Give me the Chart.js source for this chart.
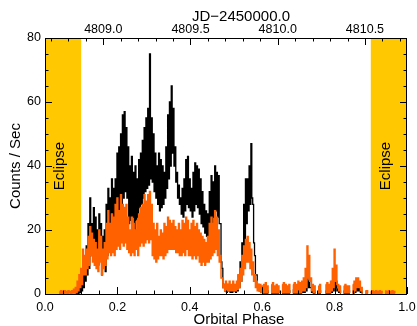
<!DOCTYPE html>
<html>
<head>
<meta charset="utf-8">
<script src="https://cdn.jsdelivr.net/npm/chart.js@4/dist/chart.umd.min.js"></script>
<style>
  html, body { margin: 0; padding: 0; background: #fff; }
  #wrap { width: 417px; height: 326px; }
</style>
</head>
<body>
<div id="wrap"><canvas id="chart" width="417" height="326"></canvas></div>
<script>
// Light curve binned every 0.005 in orbital phase, first bin at phase 0.040.
// Each bin keeps the high and low count rate seen inside it.
const phaseStart = 0.040;
const phaseStep = 0.005;

// total band (black)
const blackHi = [
  null, null, null, null, null, null, null, null, null, 1,
  1, 2, 4, 8, 12, 15, 22, 30, 22, 27,
  24, 20, 25, 22, 18, 20, 28, 33, 30, 36,
  33, 36, 44, 46, 50, 56, 57, 52, 46, 40,
  43, 38, 40, 36, 42, 44, 48, 52, 55, 58,
  75, 55, 50, 44, 40, 44, 42, 40, 38, 46,
  56, 60, 65, 58, 46, 38, 34, 30, 33, 36,
  42, 43, 36, 33, 38, 41, 40, 39, 36, 32,
  28, 26, 25, 32, 37, 35, 40, 38, 37, 22,
  8, 3, 2, 3, 2, 2, 3, 2, 3, 6,
  10, 16, 28, 36, 36, 40, 47, 28, 12, 6,
  3, 2, 1.5, 1, 1.5, 1, null, 1.5, 1, 1.5,
  1, 1, null, 1, 1.5, 1, 1.5, 1, null, 1.5,
  1, 1.5, 1.5, 1, 2, 2, 3, 5, 4, 2,
  1, 1, null, 1, 1, null, null, 1, 1.5, 1,
  2, 4, 6, 4, 1.5, 1, null, 1, 1, 1.5,
  1, null, 1, 2, 3, 3, 2, 1, null, null,
  null, null, null, null, null, null, null, null, null, null,
  null, null, null, null, null, null, null
];
const blackLo = [
  null, null, null, null, null, null, null, null, null, 0,
  0, 0.5, 1, 2, 4, 6, 8, 12, 14, 12,
  10, 9, 12, 6, 8, 7, 12, 16, 14, 18,
  15, 17, 20, 22, 25, 30, 32, 30, 22, 23,
  24, 20, 23, 24, 27, 28, 30, 32, 33, 34,
  36, 35, 32, 30, 28, 26, 27, 28, 30, 33,
  36, 40, 44, 40, 35, 30, 28, 25, 24, 26,
  28, 27, 26, 24, 26, 28, 27, 25, 22, 21,
  19, 18, 18, 20, 22, 24, 26, 24, 22, 10,
  2, 1, 0.5, 1, 0.5, 0.5, 1, 0.5, 1, 2,
  4, 8, 14, 22, 26, 28, 30, 16, 6, 3,
  1, 0.5, 0.3, 0.3, 0.3, 0.3, null, 0.3, 0.3, 0.3,
  0.3, 0.3, null, 0.3, 0.3, 0.3, 0.3, 0.3, null, 0.3,
  0.3, 0.3, 0.3, 0.3, 0.5, 0.5, 1, 2, 2, 0.5,
  0.3, 0.3, null, 0.3, 0.3, null, null, 0.3, 0.3, 0.3,
  0.5, 1, 2, 1, 0.5, 0.3, null, 0.3, 0.3, 0.3,
  0.3, null, 0.3, 0.5, 1, 1, 0.5, 0.3, null, null,
  null, null, null, null, null, null, null, null, null, null,
  null, null, null, null, null, null, null
];

// soft band (orange)
const orangeHi = [
  0.8, 1, 0.8, 1, 0.8, 1, 0.8, 1, 1.5, 2,
  4, 6, 8, 14, 12, 14, 18, 21, 19, 17,
  16, 14, 20, 18, 14, 16, 22, 26, 22, 25,
  24, 28, 30, 26, 31, 28, 27, 28, 24, 20,
  24, 22, 20, 23, 25, 27, 28, 31, 29, 31,
  32, 28, 22, 20, 22, 18, 20, 19, 22, 21,
  24, 23, 22, 23, 21, 20, 22, 20, 23, 22,
  24, 23, 20, 22, 23, 21, 22, 20, 19, 18,
  17, 16, 18, 22, 24, 22, 26, 24, 20, 12,
  5, 3, 4, 3, 4, 3, 4, 3, 4, 6,
  8, 12, 15, 17, 18, 16, 14, 10, 6, 4,
  3, 3, 2.5, 3, 3.5, 2.5, null, 3, 3.5, 2.5,
  3, 2.5, null, 3, 3.5, 3, 2.5, 3, null, 3,
  3.5, 3, 4, 3.5, 4, 5, 8, 15, 12, 5,
  3, 2.5, null, 2.5, 3, null, null, 3, 3.5, 3,
  4, 8, 14, 9, 3, 2.5, null, 2.5, 3, 2.5,
  2.5, null, 3, 4, 5, 5, 4, 2, null, 1,
  1, null, 0.8, 1, 0.8, 1, 0.8, 1, 0.8, null,
  1, 0.8, 1, 0.8, 1, 0.8, null
];
const orangeLo = [
  0.2, 0.2, 0.2, 0.3, 0.2, 0.3, 0.2, 0.3, 0.3, 0.5,
  1, 2, 3, 6, 6, 8, 9, 12, 10, 9,
  8, 7, 10, 6, 8, 9, 11, 13, 12, 13,
  12, 14, 15, 14, 16, 15, 16, 14, 13, 12,
  13, 12, 14, 12, 15, 16, 15, 16, 17, 16,
  17, 12, 11, 10, 11, 12, 12, 11, 12, 13,
  14, 14, 14, 14, 13, 13, 12, 12, 13, 12,
  14, 12, 12, 11, 12, 11, 12, 10, 9, 10,
  9, 10, 10, 11, 12, 13, 14, 12, 10, 5,
  2, 1, 1, 1, 1, 1, 1, 1, 1.5, 2,
  4, 6, 8, 10, 10, 8, 6, 4, 2, 1,
  1, 0.5, 0.5, 0.5, 0.5, 0.5, null, 0.5, 0.5, 0.5,
  0.5, 0.5, null, 0.5, 0.5, 0.5, 0.5, 0.5, null, 0.5,
  0.5, 0.5, 0.5, 0.5, 1, 1, 2, 5, 4, 1,
  0.5, 0.5, null, 0.5, 0.5, null, null, 0.5, 0.5, 0.5,
  1, 2, 4, 3, 1, 0.5, null, 0.5, 0.5, 0.5,
  0.5, null, 0.5, 1, 2, 2, 1, 0.5, null, 0.2,
  0.2, null, 0.2, 0.2, 0.2, 0.2, 0.2, 0.2, 0.2, null,
  0.2, 0.2, 0.2, 0.2, 0.2, 0.2, null
];

const phaseTicks = [0.0, 0.2, 0.4, 0.6, 0.8, 1.0];
const countTicks = [0, 20, 40, 60, 80];
const jdTicks = [4809.0, 4809.5, 4810.0, 4810.5];
const jdRange = [4808.666, 4810.741];   // JD-2450000 at phase 0 and phase 1
const eclipses = [[0.0, 0.1], [0.9, 1.0]];

const FONT = '"Liberation Sans", Arial, Helvetica, sans-serif';
Chart.defaults.font.family = FONT;
Chart.defaults.color = '#000';

// alternate between the high and low of each bin; drawn stepped this gives
// a run of vertical strokes, one per half bin
function band(hi, lo) {
  const pts = [];
  hi.forEach((h, i) => {
    const p = phaseStart + i * phaseStep;
    if (h === null) { pts.push({ x: p, y: null }); return; }
    pts.push({ x: p, y: h });
    pts.push({ x: p + phaseStep / 2, y: lo[i] });
  });
  return pts;
}

function fixedTicks(values) {
  return scale => { scale.ticks = values.map(v => ({ value: v })); };
}

// fixed box size, and no extra room reserved for edge labels
function boxSize(w, h) {
  return s => {
    if (w !== null) s.width = w;
    if (h !== null) s.height = h;
    s.paddingLeft = s.paddingRight = s.paddingTop = s.paddingBottom = 0;
  };
}

// eclipse shading, inward tick marks, frame and titles
const decorations = {
  id: 'decorations',
  beforeDatasetsDraw(chart) {
    const { ctx, chartArea: a, scales: { x } } = chart;
    ctx.save();
    ctx.fillStyle = '#ffc800';
    eclipses.forEach(([s, e]) => {
      const x0 = x.getPixelForValue(s), x1 = x.getPixelForValue(e);
      ctx.fillRect(x0, a.top, x1 - x0, a.bottom - a.top);
    });
    ctx.restore();
  },
  afterDatasetsDraw(chart) {
    const { ctx, chartArea: a, scales: { x } } = chart;
    const yMid = (a.top + a.bottom) / 2;
    ctx.save();
    ctx.fillStyle = '#000';
    ctx.font = '15px ' + FONT;
    ctx.textAlign = 'center';
    ctx.textBaseline = 'alphabetic';
    eclipses.forEach(([s, e]) => {
      const cx = x.getPixelForValue((s + e) / 2);
      ctx.save();
      ctx.translate(cx + 1, yMid);
      ctx.rotate(-Math.PI / 2);
      ctx.fillText('Eclipse', 0, 0);
      ctx.restore();
    });
    ctx.restore();
  },
  afterDraw(chart) {
    const { ctx, chartArea: a, scales: { x, xTop, y } } = chart;
    ctx.save();
    ctx.strokeStyle = '#000';
    ctx.lineWidth = 1;
    ctx.beginPath();
    // bottom / top phase and JD ticks
    for (let k = 0; k <= 20; k++) {
      const px = Math.round(x.getPixelForValue(k * 0.05)) + 0.5;
      const len = k % 4 === 0 ? 7 : 3.5;
      ctx.moveTo(px, a.bottom); ctx.lineTo(px, a.bottom - len);
    }
    for (let k = 47087; k <= 48107; k++) {
      const jd = k / 10;
      if (jd < jdRange[0] || jd > jdRange[1]) continue;
      const px = Math.round(xTop.getPixelForValue(jd)) + 0.5;
      const len = k % 5 === 0 ? 7 : 3.5;
      ctx.moveTo(px, a.top); ctx.lineTo(px, a.top + len);
    }
    // left / right count ticks
    for (let k = 0; k <= 16; k++) {
      const py = Math.round(y.getPixelForValue(k * 5)) + 0.5;
      const len = k % 4 === 0 ? 7 : 3.5;
      ctx.moveTo(a.left, py); ctx.lineTo(a.left + len, py);
      ctx.moveTo(a.right, py); ctx.lineTo(a.right - len, py);
    }
    ctx.stroke();
    ctx.strokeRect(a.left + 0.5, a.top + 0.5, a.right - a.left - 1, a.bottom - a.top);

    ctx.fillStyle = '#000';
    ctx.font = '15px ' + FONT;
    ctx.textAlign = 'center';
    ctx.textBaseline = 'alphabetic';
    ctx.fillText('JD\u22122450000.0', 241, 21);
    ctx.fillText('Orbital Phase', 239, 324);
    ctx.translate(19.5, 166);
    ctx.rotate(-Math.PI / 2);
    ctx.fillText('Counts / Sec', 0, 0);
    ctx.restore();
  }
};

const tickFont = { family: FONT, size: 12.5 };

new Chart(document.getElementById('chart'), {
  type: 'line',
  data: {
    datasets: [
      {
        label: 'soft',
        data: band(orangeHi, orangeLo),
        borderColor: '#ff6000',
        borderWidth: 1.5,
        stepped: 'middle',
        pointRadius: 0,
        spanGaps: false,
        order: 1
      },
      {
        label: 'total',
        data: band(blackHi, blackLo),
        borderColor: '#000',
        borderWidth: 1.3,
        stepped: 'middle',
        pointRadius: 0,
        spanGaps: false,
        order: 2
      }
    ]
  },
  options: {
    responsive: false,
    animation: false,
    events: [],
    layout: { padding: 0 },
    plugins: { legend: { display: false }, tooltip: { enabled: false } },
    scales: {
      x: {
        type: 'linear', position: 'bottom', min: 0, max: 1,
        afterBuildTicks: fixedTicks(phaseTicks),
        ticks: { font: tickFont, padding: 6, maxRotation: 0, autoSkip: false,
                 callback: v => v.toFixed(1) },
        grid: { display: false, drawTicks: false },
        border: { display: false },
        afterFit: boxSize(null, 32)
      },
      xTop: {
        type: 'linear', position: 'top', min: jdRange[0], max: jdRange[1],
        afterBuildTicks: fixedTicks(jdTicks),
        ticks: { font: tickFont, padding: 1, maxRotation: 0, autoSkip: false,
                 callback: v => v.toFixed(1) },
        grid: { display: false, drawTicks: false },
        border: { display: false },
        afterFit: boxSize(null, 38)
      },
      y: {
        type: 'linear', position: 'left', min: 0, max: 80,
        afterBuildTicks: fixedTicks(countTicks),
        ticks: { font: tickFont, padding: 4 },
        grid: { display: false, drawTicks: false },
        border: { display: false },
        afterFit: boxSize(45, null)
      },
      yRight: {
        type: 'linear', position: 'right', min: 0, max: 80,
        ticks: { display: false },
        grid: { display: false, drawTicks: false },
        border: { display: false },
        afterFit: boxSize(10, null)
      }
    }
  },
  plugins: [decorations]
});
</script>
</body>
</html>
